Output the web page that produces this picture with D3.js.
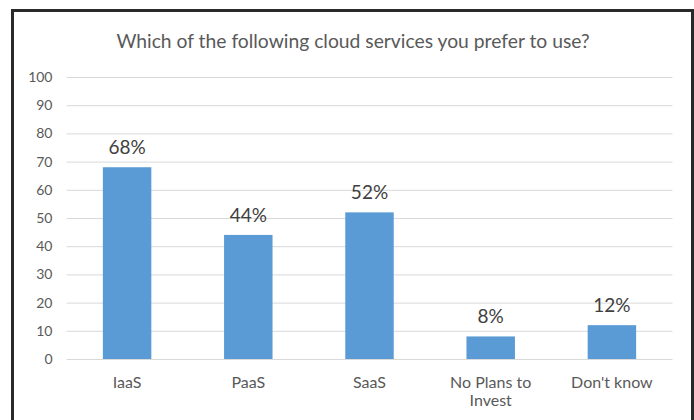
<!DOCTYPE html>
<html>
<head>
<meta charset="utf-8">
<script src="https://cdn.jsdelivr.net/npm/d3@7"></script>
<style>
  html, body { margin: 0; padding: 0; background: #fff; }
  svg { display: block; }
</style>
</head>
<body>
<svg id="chart" width="694" height="420"></svg>
<script>
// Survey: preferred cloud service models
const categories = ["IaaS", "PaaS", "SaaS", "No Plans to Invest", "Don't know"];
const categoryLines = [["IaaS"], ["PaaS"], ["SaaS"], ["No Plans to", "Invest"], ["Don't know"]];
const values = [68, 44, 52, 8, 12];
const yTicks = [0, 10, 20, 30, 40, 50, 60, 70, 80, 90, 100];
const title = "Which of the following cloud services you prefer to use?";

const font = "Lato, 'Open Sans', sans-serif";
const svg = d3.select("#chart");

// Frame around the chart area
svg.append("rect").attr("x", 12.5).attr("y", 10.5).attr("width", 680).attr("height", 420)
  .attr("fill", "#fff").attr("stroke", "#2a2a2a").attr("stroke-width", 3);
svg.append("line").attr("x1", 692.5).attr("x2", 692.5).attr("y1", 10).attr("y2", 420)
  .attr("stroke", "#2a2a2a").attr("stroke-width", 1.5);

const plot = { left: 66.5, right: 672.5, top: 77, bottom: 359 };

const x = d3.scaleBand().domain(categories)
  .range([plot.left, plot.right]).paddingInner(0.6).paddingOuter(0.3);
const y = d3.scaleLinear().domain([0, 100]).range([plot.bottom, plot.top]);

// Title
svg.append("text").attr("x", 353).attr("y", 47.5).attr("text-anchor", "middle")
  .attr("font-family", font).attr("font-size", 19.3).attr("fill", "#595959")
  .text(title);

// Gridlines + y tick labels
const yAxis = d3.axisLeft(y).tickValues(yTicks)
  .tickSize(-(plot.right - plot.left)).tickPadding(14);
const gy = svg.append("g").attr("transform", `translate(${plot.left},0)`).call(yAxis);
gy.select(".domain").remove();
gy.selectAll(".tick line").attr("stroke", "#d9d9d9").attr("stroke-width", 1);
gy.selectAll(".tick text").attr("font-family", font).attr("font-size", 14)
  .attr("fill", "#595959");

// Bars
const data = categories.map((c, i) => ({ c, v: values[i], lines: categoryLines[i] }));
svg.append("g").selectAll("rect").data(data).join("rect")
  .attr("x", d => x(d.c)).attr("width", x.bandwidth())
  .attr("y", d => y(d.v)).attr("height", d => y(0) - y(d.v))
  .attr("fill", "#5b9bd5");

// Value labels
svg.append("g").selectAll("text").data(data).join("text")
  .attr("x", d => x(d.c) + x.bandwidth() / 2).attr("y", d => y(d.v) - 13)
  .attr("text-anchor", "middle").attr("font-family", font).attr("font-size", 19)
  .attr("fill", "#404040").text(d => d.v + "%");

// Category labels
const gx = svg.append("g").selectAll("text").data(data).join("text")
  .attr("x", d => x(d.c) + x.bandwidth() / 2).attr("y", 388)
  .attr("text-anchor", "middle").attr("font-family", font).attr("font-size", 16)
  .attr("fill", "#595959");
gx.selectAll("tspan").data(d => d.lines.map(l => ({ l, x: x(d.c) + x.bandwidth() / 2 })))
  .join("tspan").attr("x", t => t.x).attr("dy", (t, i) => i === 0 ? 0 : 18).text(t => t.l);
</script>
</body>
</html>
